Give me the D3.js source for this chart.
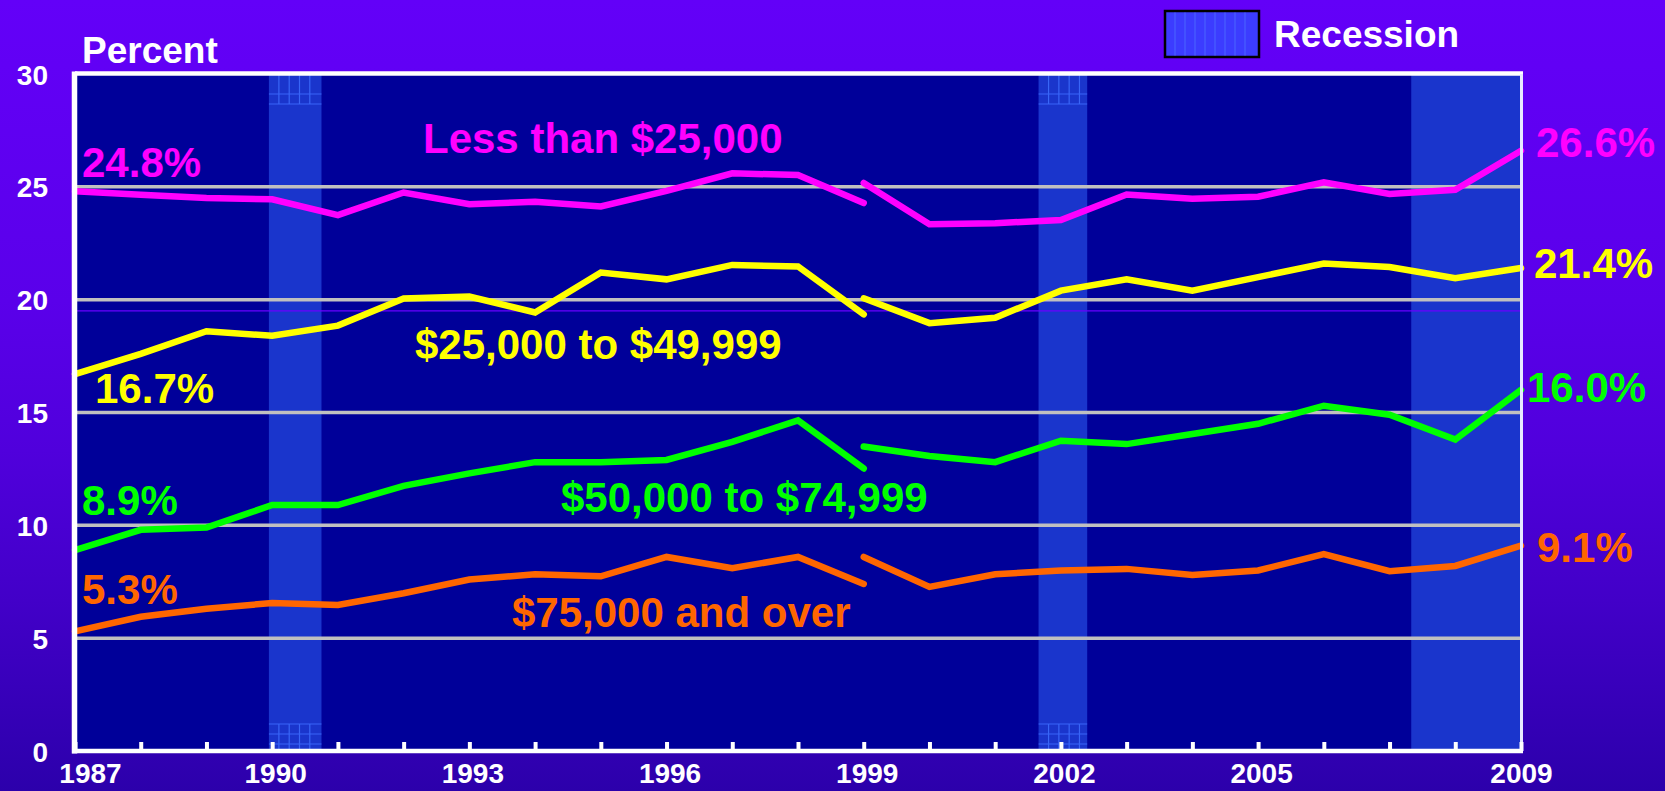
<!DOCTYPE html>
<html>
<head>
<meta charset="utf-8">
<script src="https://cdn.jsdelivr.net/npm/d3@7"></script>
<style>
  html, body { margin: 0; padding: 0; background: #5a00ea; }
  svg { display: block; }
  text { font-family: "Liberation Sans", Arial, Helvetica, sans-serif; font-weight: bold; }
</style>
</head>
<body>
<svg id="chart" width="1665" height="791"></svg>
<script>
// ---------- DATA ----------
const yearsOld = [1987,1988,1989,1990,1991,1992,1993,1994,1995,1996,1997,1998,1999];
const yearsNew = [1999,2000,2001,2002,2003,2004,2005,2006,2007,2008,2009];

const under25Old = [24.8,24.65,24.5,24.45,23.75,24.75,24.23,24.34,24.13,24.82,25.6,25.52,24.28];
const under25New = [25.17,23.34,23.39,23.53,24.66,24.47,24.56,25.2,24.68,24.87,26.6];

const mid25Old = [16.7,17.6,18.6,18.4,18.85,20.05,20.14,19.43,21.2,20.9,21.54,21.47,19.35];
const mid25New = [20.06,18.96,19.2,20.4,20.9,20.4,21.0,21.6,21.45,20.95,21.4];

const mid50Old = [8.9,9.8,9.9,10.9,10.9,11.75,12.3,12.8,12.8,12.9,13.7,14.65,12.52];
const mid50New = [13.49,13.07,12.8,13.75,13.6,14.05,14.5,15.3,14.9,13.8,16.0];

const over75Old = [5.3,5.95,6.3,6.56,6.47,6.99,7.6,7.83,7.74,8.6,8.1,8.6,7.4];
const over75New = [8.6,7.27,7.83,8.0,8.07,7.8,8.0,8.73,7.97,8.2,9.1];

const seriesNames = ["Less than $25,000","$25,000 to $49,999","$50,000 to $74,999","$75,000 and over"];
const seriesColors = ["#ff00ff","#ffff00","#00ff00","#ff6600"];
const startLabels = ["24.8%","16.7%","8.9%","5.3%"];
const endLabels = ["26.6%","21.4%","16.0%","9.1%"];

const recessionStart = [1989.95, 2001.66, 2007.33];
const recessionEnd   = [1990.75, 2002.40, 2009.0];

const yTicks = [0,5,10,15,20,25,30];
const gridValues = [5,10,15,20,25];
const xTickYears = d3.range(1987, 2010);
const xLabelYears = [1987,1990,1993,1996,1999,2002,2005,2009];

// ---------- LAYOUT ----------
const W = 1665, H = 791;
const L = 75, R = 1521, T = 74, B = 751;

const svg = d3.select("#chart");
const defs = svg.append("defs");

const bg = defs.append("linearGradient").attr("id","bg").attr("x1",0).attr("y1",0).attr("x2",0).attr("y2",1);
[[0,"#6300f8"],[0.38,"#5a00ea"],[0.57,"#5000dc"],[0.76,"#4200c8"],[1,"#2c00ab"]].forEach(s =>
  bg.append("stop").attr("offset", s[0]).attr("stop-color", s[1]));

svg.append("rect").attr("width", W).attr("height", H).attr("fill", "url(#bg)");

const x = d3.scaleLinear().domain([1987, 2009]).range([L, R]);
const y = d3.scaleLinear().domain([0, 30]).range([B, T]);

// plot background
svg.append("rect").attr("x", L).attr("y", T).attr("width", R - L).attr("height", B - T).attr("fill", "#000099");

// recession bands
const recs = recessionStart.map((s, i) => ({s, e: recessionEnd[i], grid: i < 2}));
const gRec = svg.append("g");
recs.forEach(r => {
  const x0 = x(r.s), x1 = x(r.e);
  gRec.append("rect").attr("x", x0).attr("y", T).attr("width", x1 - x0).attr("height", B - T).attr("fill", "#1a35cc");
  if (r.grid) {
    const gl = gRec.append("g").attr("stroke", "#3f6fff").attr("stroke-width", 1.2).attr("opacity", 0.85);
    [[T, T + 30], [B - 27, B]].forEach(([a, b]) => {
      for (let xx = x0 + 10; xx < x1 - 2; xx += 10.3) gl.append("line").attr("x1", xx).attr("x2", xx).attr("y1", a).attr("y2", b);
      for (let yy = a + (a === T ? 20 : 0); yy <= b; yy += 10) gl.append("line").attr("x1", x0).attr("x2", x1).attr("y1", yy).attr("y2", yy);
    });
  }
});

// gridlines
svg.append("g").selectAll("line").data(gridValues).join("line")
  .attr("x1", L).attr("x2", R).attr("y1", d => y(d)).attr("y2", d => y(d))
  .attr("stroke", "#c0c0c0").attr("stroke-width", 3.5);

// thin purple reference line
svg.append("line").attr("x1", L).attr("x2", R).attr("y1", y(19.5)).attr("y2", y(19.5))
  .attr("stroke", "#6a00ff").attr("stroke-width", 1.2);

// lines
const line = d3.line().x(d => x(d[0])).y(d => y(d[1]));
const olds = [under25Old, mid25Old, mid50Old, over75Old];
const news = [under25New, mid25New, mid50New, over75New];
const gLines = svg.append("g").attr("fill", "none").attr("stroke-width", 6.5).attr("stroke-linecap", "round").attr("stroke-linejoin", "miter");
olds.forEach((vals, i) => {
  gLines.append("path").attr("d", line(yearsOld.map((yr, j) => [yr, vals[j]]))).attr("stroke", seriesColors[i]);
  gLines.append("path").attr("d", line(yearsNew.map((yr, j) => [yr, news[i][j]]))).attr("stroke", seriesColors[i]);
});

// frame
svg.append("line").attr("x1", L).attr("x2", R + 2).attr("y1", T - 0.5).attr("y2", T - 0.5).attr("stroke", "#fff").attr("stroke-width", 4.5);
svg.append("line").attr("x1", R + 0.5).attr("x2", R + 0.5).attr("y1", T).attr("y2", B).attr("stroke", "#e8eaff").attr("stroke-width", 3);

// x axis
const xAxis = d3.axisBottom(x).tickValues(xTickYears).tickSizeInner(-9).tickSizeOuter(0)
  .tickFormat(d => xLabelYears.includes(d) ? String(d) : "");
const gx = svg.append("g").attr("transform", `translate(0,${B})`).call(xAxis);
gx.select(".domain").remove();
gx.selectAll(".tick line").attr("stroke", "#fff").attr("stroke-width", 4);
gx.selectAll(".tick text").attr("fill", "#fff").attr("font-size", 28).attr("y", 0).attr("dy", 32)
  .attr("dx", d => d === 1987 ? 15 : (d === 2009 ? 0 : 3));

// y axis
const yAxis = d3.axisLeft(y).tickValues(yTicks).tickSize(0).tickPadding(0);
const gy = svg.append("g").attr("transform", `translate(${L - 27},0)`).call(yAxis);
gy.select(".domain").remove();
gy.selectAll(".tick text").attr("fill", "#fff").attr("font-size", 28).attr("dy", "0.36em");

// left & bottom axis lines
svg.append("line").attr("x1", L - 0.5).attr("x2", L - 0.5).attr("y1", T - 2.5).attr("y2", B + 2.5).attr("stroke", "#fff").attr("stroke-width", 5.5);
svg.append("line").attr("x1", L - 3).attr("x2", R + 2).attr("y1", B).attr("y2", B).attr("stroke", "#fff").attr("stroke-width", 4.5);

// axis title
svg.append("text").attr("x", 82).attr("y", 63).attr("fill", "#fff").attr("font-size", 37).text("Percent");

// legend
svg.append("rect").attr("x", 1165).attr("y", 11).attr("width", 94).attr("height", 46)
  .attr("fill", "#3c3cff").attr("stroke", "#000").attr("stroke-width", 2.5);
svg.append("g").attr("stroke", "#4a66ff").attr("stroke-width", 1).selectAll("line")
  .data(d3.range(1175, 1255, 10)).join("line")
  .attr("x1", d => d).attr("x2", d => d).attr("y1", 12.5).attr("y2", 55.5);
svg.append("text").attr("x", 1274).attr("y", 47).attr("fill", "#fff").attr("font-size", 37).text("Recession");

// series labels
const nameLabelPos = [[423, 153], [415, 359], [561, 512], [512, 627]];
const startLabelPos = [[82, 177], [95, 403], [82, 515], [82, 604]];
const endLabelPos = [[1536, 157], [1534, 278], [1527, 402], [1537, 562]];
const gLab = svg.append("g").attr("font-size", 42);
seriesNames.forEach((n, i) => {
  gLab.append("text").attr("x", nameLabelPos[i][0]).attr("y", nameLabelPos[i][1]).attr("fill", seriesColors[i]).text(n);
  gLab.append("text").attr("x", startLabelPos[i][0]).attr("y", startLabelPos[i][1]).attr("fill", seriesColors[i]).text(startLabels[i]);
  gLab.append("text").attr("x", endLabelPos[i][0]).attr("y", endLabelPos[i][1]).attr("fill", seriesColors[i]).text(endLabels[i]);
});
</script>
</body>
</html>
